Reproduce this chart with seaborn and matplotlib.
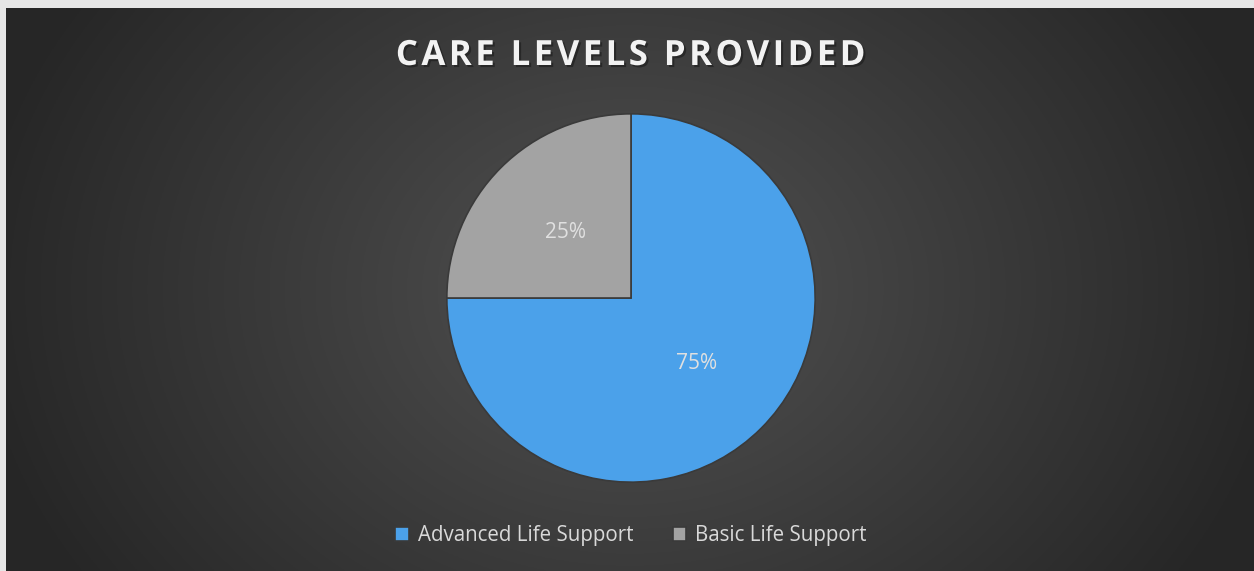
import numpy as np
import matplotlib
matplotlib.use("Agg")
import matplotlib.pyplot as plt
import matplotlib.patheffects as pe
import seaborn as sns

# ==================================================
# DATA
# ==================================================

categories = ["Advanced Life Support", "Basic Life Support"]
shares = [75, 25]
colors = ["#4ba1ea", "#a3a3a3"]
title = "CARE LEVELS PROVIDED"

# ==================================================
# FIGURE
# ==================================================

sns.set_theme(style="white")
plt.rcParams["font.family"] = ["Open Sans", "DejaVu Sans"]

W, H = 1254, 571
fig = plt.figure(figsize=(W / 100, H / 100), dpi=100)
fig.patch.set_facecolor("#e6e6e6")

# dark radial gradient panel
left = 6 / W
bg = fig.add_axes([left, 0, 1 - left, 1 - 8 / H])
bg.set_axis_off()
yy, xx = np.mgrid[0:1:300j, 0:1:600j]
r = np.sqrt(((xx - 0.5) * 1.6) ** 2 + ((yy - 0.5) * 0.9) ** 2)
shade = 0.32 - 0.17 * np.clip(r / 0.85, 0, 1)
img = np.dstack([shade, shade, shade])
bg.imshow(img, extent=[0, 1, 0, 1], aspect="auto", origin="lower")
bg.set_xlim(0, 1)
bg.set_ylim(0, 1)

# pie
size = 372
cx, cy = 631, 298
ax = fig.add_axes([(cx - size / 2) / W, 1 - (cy + size / 2) / H, size / W, size / H])
ax.set_axis_off()

wedges, texts, autotexts = ax.pie(
    shares,
    colors=colors,
    startangle=90,
    counterclock=False,
    autopct="%d%%",
    pctdistance=0.5,
    radius=1.0,
    wedgeprops=dict(edgecolor="#3a3a3a", linewidth=1.2),
    textprops=dict(color="#e0e0e0", fontsize=15),
)
ax.set_xlim(-1.01, 1.01)
ax.set_ylim(-1.01, 1.01)
ax.set_aspect("equal")

# letter-spaced title
spaced = "\u200a".join(title)
fig.text(
    cx / W, 1 - 56 / H, spaced,
    ha="center", va="center", fontsize=25, fontweight="bold", color="#f2f2f2",
    path_effects=[pe.withSimplePatchShadow(offset=(1.5, -1.5), shadow_rgbFace="#1a1a1a", alpha=0.6)],
)

# legend
fig.legend(
    wedges, categories,
    loc="center", bbox_to_anchor=(cx / W, 1 - 536 / H),
    ncol=2, frameon=False, fontsize=14.8, labelcolor="#d9d9d9",
    handlelength=0.65, handleheight=0.65, handletextpad=0.45, columnspacing=1.9,
)

fig.savefig("out.png", dpi=100, facecolor=fig.get_facecolor())
